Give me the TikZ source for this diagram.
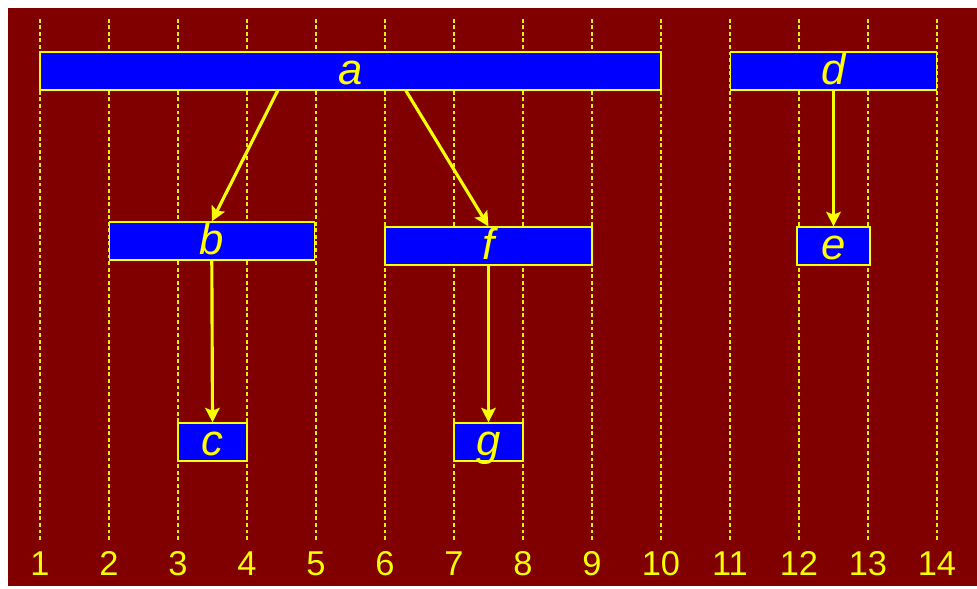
\documentclass[tikz,border=0pt]{standalone}
\usepackage{fontspec}
\setmainfont{Liberation Sans}
\usepackage{xcolor}
\usetikzlibrary{arrows.meta, calc}

\definecolor{bgred}{RGB}{128,0,0}
\definecolor{boxblue}{RGB}{0,0,255}
\definecolor{lineyellow}{RGB}{255,255,0}

\begin{document}
\begin{tikzpicture}[
    interval/.style={rectangle, draw=lineyellow, line width=0.5pt, fill=boxblue, text=lineyellow, minimum height=0.551cm, inner sep=0pt, text height=0.38cm, text depth=0pt, font=\fontsize{18}{20}\selectfont\itshape},
    gridline/.style={draw=lineyellow!90!orange, line width=0.55pt, dash pattern=on 1.6pt off 1.1pt},
    ticklabel/.style={text=lineyellow, anchor=base, inner sep=0pt, font=\fontsize{14.2}{16}\selectfont},
    link/.style={-{Stealth[length=2.1mm, width=2.1mm, inset=0.4mm]}, draw=lineyellow, line width=1.3pt}
]

% Canvas
\useasboundingbox (0.4203,0) rectangle (14.58,8.536);
\fill[bgred] (0.536,0.043) rectangle (14.58,8.420);

% Grid
\foreach \x in {1,...,14} {
    \draw[gridline] (\x,0.71) -- (\x,8.275);
    \node[ticklabel] (tick\x) at (\x,0.19) {\x};
}

% Intervals
\node[interval, minimum width=9cm] (a) at (5.5, 7.507) {a};
\node[interval, minimum width=2.98cm] (d) at (12.5, 7.507) {d};
\node[interval, minimum width=2.97cm] (b) at (3.49, 5.043) {b};
\node[interval, minimum width=3cm] (f) at (7.5, 4.971) {f};
\node[interval, minimum width=1.06cm] (e) at (12.5, 4.971) {e};
\node[interval, minimum width=1cm] (c) at (3.5, 2.130) {c};
\node[interval, minimum width=1cm] (g) at (7.5, 2.130) {g};

% Links
\draw[link] ($(a.south west)!0.383!(a.south east)$) -- (b.north);
\draw[link] ($(a.south west)!0.589!(a.south east)$) -- (f.north);
\draw[link] (b.south) -- (c.north);
\draw[link] (f.south) -- (g.north);
\draw[link] (d.south) -- (e.north);

\end{tikzpicture}
\end{document}
